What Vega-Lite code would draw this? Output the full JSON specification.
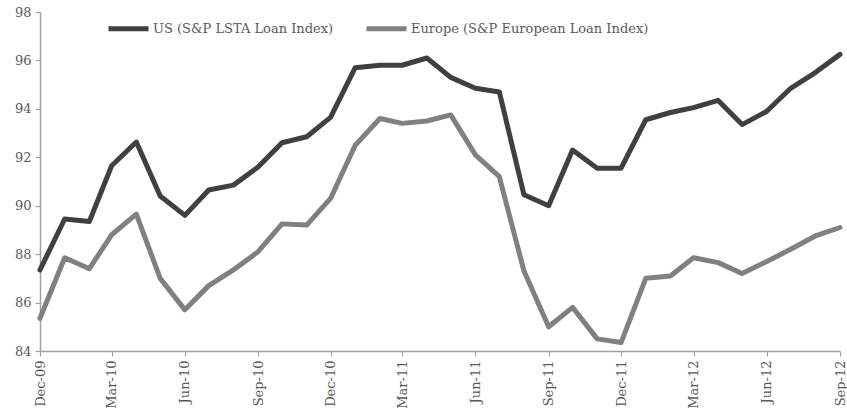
{
  "$schema": "https://vega.github.io/schema/vega-lite/v6.json",
  "width": 800,
  "height": 339,
  "autosize": {"type": "none"},
  "padding": {"left": 40, "top": 12, "right": 7, "bottom": 59},
  "background": "white",
  "config": {
    "view": {"stroke": null},
    "font": "DejaVu Serif",
    "axis": {"labelFont": "DejaVu Serif", "labelFontSize": 13, "labelColor": "#595959", "domainColor": "#a0a0a0", "tickColor": "#a0a0a0", "domainWidth": 1.5, "tickWidth": 1.2, "grid": false, "title": null}
  },
  "data": {
    "values": [
      {"date": "2009-12-01", "series": "US (S&P LSTA Loan Index)", "value": 87.35},
      {"date": "2010-01-01", "series": "US (S&P LSTA Loan Index)", "value": 89.45},
      {"date": "2010-02-01", "series": "US (S&P LSTA Loan Index)", "value": 89.35},
      {"date": "2010-03-01", "series": "US (S&P LSTA Loan Index)", "value": 91.65},
      {"date": "2010-04-01", "series": "US (S&P LSTA Loan Index)", "value": 92.63},
      {"date": "2010-05-01", "series": "US (S&P LSTA Loan Index)", "value": 90.4},
      {"date": "2010-06-01", "series": "US (S&P LSTA Loan Index)", "value": 89.6},
      {"date": "2010-07-01", "series": "US (S&P LSTA Loan Index)", "value": 90.65},
      {"date": "2010-08-01", "series": "US (S&P LSTA Loan Index)", "value": 90.85},
      {"date": "2010-09-01", "series": "US (S&P LSTA Loan Index)", "value": 91.6},
      {"date": "2010-10-01", "series": "US (S&P LSTA Loan Index)", "value": 92.6},
      {"date": "2010-11-01", "series": "US (S&P LSTA Loan Index)", "value": 92.85},
      {"date": "2010-12-01", "series": "US (S&P LSTA Loan Index)", "value": 93.65},
      {"date": "2011-01-01", "series": "US (S&P LSTA Loan Index)", "value": 95.7},
      {"date": "2011-02-01", "series": "US (S&P LSTA Loan Index)", "value": 95.8},
      {"date": "2011-03-01", "series": "US (S&P LSTA Loan Index)", "value": 95.8},
      {"date": "2011-04-01", "series": "US (S&P LSTA Loan Index)", "value": 96.1},
      {"date": "2011-05-01", "series": "US (S&P LSTA Loan Index)", "value": 95.3},
      {"date": "2011-06-01", "series": "US (S&P LSTA Loan Index)", "value": 94.85},
      {"date": "2011-07-01", "series": "US (S&P LSTA Loan Index)", "value": 94.7},
      {"date": "2011-08-01", "series": "US (S&P LSTA Loan Index)", "value": 90.45},
      {"date": "2011-09-01", "series": "US (S&P LSTA Loan Index)", "value": 90.0},
      {"date": "2011-10-01", "series": "US (S&P LSTA Loan Index)", "value": 92.3},
      {"date": "2011-11-01", "series": "US (S&P LSTA Loan Index)", "value": 91.55},
      {"date": "2011-12-01", "series": "US (S&P LSTA Loan Index)", "value": 91.55},
      {"date": "2012-01-01", "series": "US (S&P LSTA Loan Index)", "value": 93.55},
      {"date": "2012-02-01", "series": "US (S&P LSTA Loan Index)", "value": 93.85},
      {"date": "2012-03-01", "series": "US (S&P LSTA Loan Index)", "value": 94.05},
      {"date": "2012-04-01", "series": "US (S&P LSTA Loan Index)", "value": 94.35},
      {"date": "2012-05-01", "series": "US (S&P LSTA Loan Index)", "value": 93.35},
      {"date": "2012-06-01", "series": "US (S&P LSTA Loan Index)", "value": 93.9},
      {"date": "2012-07-01", "series": "US (S&P LSTA Loan Index)", "value": 94.85},
      {"date": "2012-08-01", "series": "US (S&P LSTA Loan Index)", "value": 95.5},
      {"date": "2012-09-01", "series": "US (S&P LSTA Loan Index)", "value": 96.25},
      {"date": "2009-12-01", "series": "Europe (S&P European Loan Index)", "value": 85.35},
      {"date": "2010-01-01", "series": "Europe (S&P European Loan Index)", "value": 87.85},
      {"date": "2010-02-01", "series": "Europe (S&P European Loan Index)", "value": 87.4},
      {"date": "2010-03-01", "series": "Europe (S&P European Loan Index)", "value": 88.8},
      {"date": "2010-04-01", "series": "Europe (S&P European Loan Index)", "value": 89.65},
      {"date": "2010-05-01", "series": "Europe (S&P European Loan Index)", "value": 87.0},
      {"date": "2010-06-01", "series": "Europe (S&P European Loan Index)", "value": 85.7},
      {"date": "2010-07-01", "series": "Europe (S&P European Loan Index)", "value": 86.7},
      {"date": "2010-08-01", "series": "Europe (S&P European Loan Index)", "value": 87.35},
      {"date": "2010-09-01", "series": "Europe (S&P European Loan Index)", "value": 88.1},
      {"date": "2010-10-01", "series": "Europe (S&P European Loan Index)", "value": 89.25},
      {"date": "2010-11-01", "series": "Europe (S&P European Loan Index)", "value": 89.2},
      {"date": "2010-12-01", "series": "Europe (S&P European Loan Index)", "value": 90.3},
      {"date": "2011-01-01", "series": "Europe (S&P European Loan Index)", "value": 92.5},
      {"date": "2011-02-01", "series": "Europe (S&P European Loan Index)", "value": 93.6},
      {"date": "2011-03-01", "series": "Europe (S&P European Loan Index)", "value": 93.4},
      {"date": "2011-04-01", "series": "Europe (S&P European Loan Index)", "value": 93.5},
      {"date": "2011-05-01", "series": "Europe (S&P European Loan Index)", "value": 93.75},
      {"date": "2011-06-01", "series": "Europe (S&P European Loan Index)", "value": 92.1},
      {"date": "2011-07-01", "series": "Europe (S&P European Loan Index)", "value": 91.2},
      {"date": "2011-08-01", "series": "Europe (S&P European Loan Index)", "value": 87.3},
      {"date": "2011-09-01", "series": "Europe (S&P European Loan Index)", "value": 85.0},
      {"date": "2011-10-01", "series": "Europe (S&P European Loan Index)", "value": 85.8},
      {"date": "2011-11-01", "series": "Europe (S&P European Loan Index)", "value": 84.5},
      {"date": "2011-12-01", "series": "Europe (S&P European Loan Index)", "value": 84.35},
      {"date": "2012-01-01", "series": "Europe (S&P European Loan Index)", "value": 87.0},
      {"date": "2012-02-01", "series": "Europe (S&P European Loan Index)", "value": 87.1},
      {"date": "2012-03-01", "series": "Europe (S&P European Loan Index)", "value": 87.85},
      {"date": "2012-04-01", "series": "Europe (S&P European Loan Index)", "value": 87.65},
      {"date": "2012-05-01", "series": "Europe (S&P European Loan Index)", "value": 87.2},
      {"date": "2012-06-01", "series": "Europe (S&P European Loan Index)", "value": 87.7},
      {"date": "2012-07-01", "series": "Europe (S&P European Loan Index)", "value": 88.2},
      {"date": "2012-08-01", "series": "Europe (S&P European Loan Index)", "value": 88.75},
      {"date": "2012-09-01", "series": "Europe (S&P European Loan Index)", "value": 89.1}
    ]
  },
  "mark": {"type": "line", "strokeWidth": 5, "strokeCap": "round", "strokeJoin": "round"},
  "encoding": {
    "x": {
      "field": "date",
      "type": "temporal",
      "scale": {"type": "utc", "domain": [{"year": 2009, "month": 12, "date": 1, "utc": true}, {"year": 2012, "month": 9, "date": 1, "utc": true}]},
      "axis": {
        "labelExpr": "utcFormat(datum.value, '%b-%y')",
        "labelAngle": 270,
        "labelPadding": 4,
        "tickSize": 5,
        "values": [
          {"year": 2009, "month": 12, "date": 1, "utc": true},
          {"year": 2010, "month": 3, "date": 1, "utc": true},
          {"year": 2010, "month": 6, "date": 1, "utc": true},
          {"year": 2010, "month": 9, "date": 1, "utc": true},
          {"year": 2010, "month": 12, "date": 1, "utc": true},
          {"year": 2011, "month": 3, "date": 1, "utc": true},
          {"year": 2011, "month": 6, "date": 1, "utc": true},
          {"year": 2011, "month": 9, "date": 1, "utc": true},
          {"year": 2011, "month": 12, "date": 1, "utc": true},
          {"year": 2012, "month": 3, "date": 1, "utc": true},
          {"year": 2012, "month": 6, "date": 1, "utc": true},
          {"year": 2012, "month": 9, "date": 1, "utc": true}
        ]
      }
    },
    "y": {
      "field": "value",
      "type": "quantitative",
      "scale": {"domain": [84, 98], "zero": false, "nice": false},
      "axis": {"values": [84, 86, 88, 90, 92, 94, 96, 98], "tickSize": 5, "labelPadding": 4, "labelFontSize": 13}
    },
    "color": {
      "field": "series",
      "type": "nominal",
      "sort": ["US (S&P LSTA Loan Index)", "Europe (S&P European Loan Index)"],
      "scale": {"domain": ["US (S&P LSTA Loan Index)", "Europe (S&P European Loan Index)"], "range": ["#404040", "#808080"]},
      "legend": {
        "title": null,
        "orient": "none",
        "direction": "horizontal",
        "legendX": 66,
        "legendY": -6,
        "symbolType": "stroke",
        "symbolSize": 1600,
        "symbolStrokeWidth": 5,
        "labelFont": "DejaVu Serif",
        "labelFontSize": 13,
        "labelColor": "#595959",
        "labelOffset": 2,
        "columnPadding": 22,
        "labelLimit": 400
      }
    }
  }
}
